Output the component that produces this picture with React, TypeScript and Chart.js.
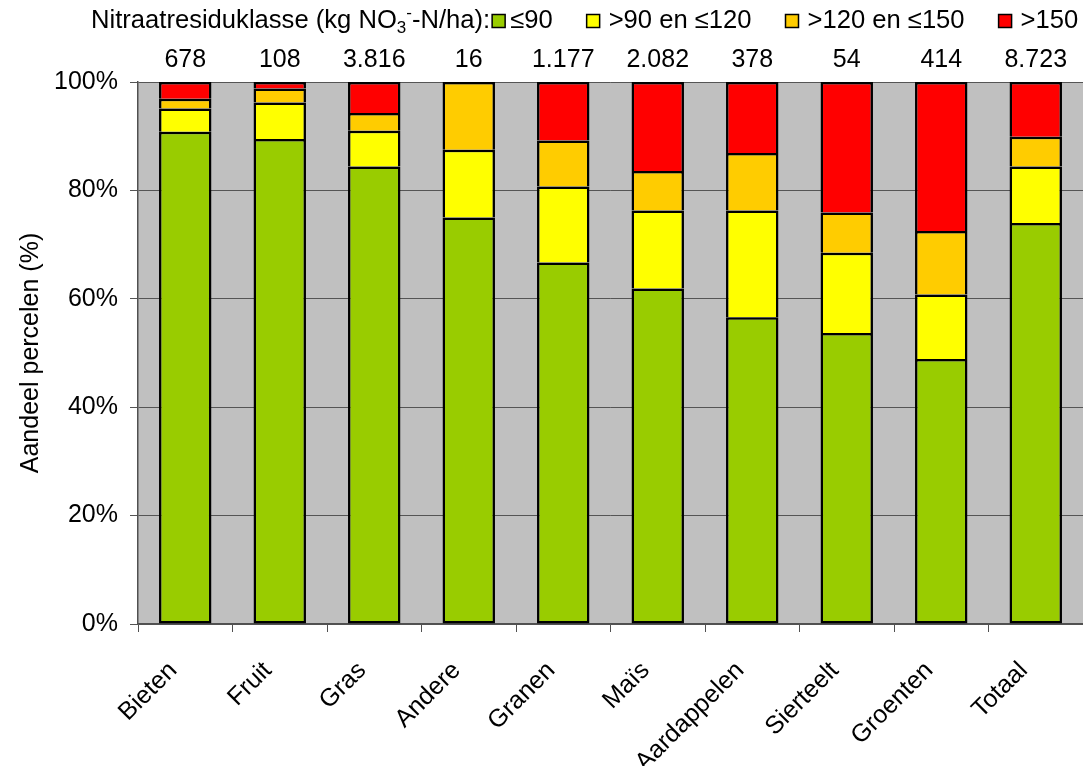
import React, { useEffect, useRef } from 'react';
import { Chart, registerables } from 'chart.js';

Chart.register(...registerables);

const categories = ['Bieten', 'Fruit', 'Gras', 'Andere', 'Granen', 'Maïs', 'Aardappelen', 'Sierteelt', 'Groenten', 'Totaal'];
const counts = ['678', '108', '3.816', '16', '1.177', '2.082', '378', '54', '414', '8.723'];
const le90 = [90.8, 89.5, 84.4, 75.0, 66.7, 61.9, 56.6, 53.7, 48.9, 74.0];
const gt90le120 = [4.3, 6.7, 6.6, 12.5, 14.0, 14.4, 19.7, 14.8, 11.9, 10.4];
const gt120le150 = [1.8, 2.6, 3.3, 12.5, 8.5, 7.3, 10.6, 7.4, 11.7, 5.5];
const gt150 = [3.1, 1.2, 5.7, 0, 10.8, 16.4, 13.1, 24.1, 27.5, 10.1];
const seriesNames = ['≤90', '>90 en ≤120', '>120 en ≤150', '>150'];
const seriesColors = ['#99CC00', '#FFFF00', '#FFCC00', '#FF0000'];
const yAxisTitle = 'Aandeel percelen (%)';

const FONT = '"Liberation Sans", Arial, sans-serif';
const FS = 25;
const LFS = 25.6;

const bgPlugin = {
  id: 'bgPlugin',
  beforeDraw(chart: any) {
    const { ctx, chartArea } = chart;
    ctx.save();
    ctx.fillStyle = '#FFFFFF';
    ctx.fillRect(0, 0, chart.width, chart.height);
    ctx.fillStyle = '#C0C0C0';
    ctx.fillRect(chartArea.left, chartArea.top, chartArea.right - chartArea.left, chartArea.bottom - chartArea.top);
    ctx.restore();
  },
};

const overlayPlugin = {
  id: 'overlayPlugin',
  afterDraw(chart: any) {
    const { ctx } = chart;
    const xs = chart.scales.x;
    ctx.save();
    ctx.fillStyle = '#000';
    ctx.textBaseline = 'middle';
    ctx.font = `${FS}px ${FONT}`;
    // counts above bars
    ctx.textAlign = 'center';
    counts.forEach((c, i) => {
      ctx.fillText(c, xs.getPixelForValue(i), 60);
    });
    // legend
    ctx.font = `${LFS}px ${FONT}`;
    ctx.textAlign = 'left';
    const ly = 21;
    let x = 91;
    const part1 = 'Nitraatresiduklasse (kg NO';
    ctx.fillText(part1, x, ly);
    x += ctx.measureText(part1).width;
    ctx.font = `${Math.round(LFS * 0.65)}px ${FONT}`;
    ctx.fillText('3', x, ly + LFS * 0.28);
    x += ctx.measureText('3').width;
    ctx.fillText('-', x, ly - LFS * 0.3);
    x += ctx.measureText('-').width;
    ctx.font = `${LFS}px ${FONT}`;
    const part2 = '-N/ha):';
    ctx.fillText(part2, x, ly);
    x += ctx.measureText(part2).width + 2;
    seriesNames.forEach((name, i) => {
      const bs = 13;
      ctx.fillStyle = seriesColors[i];
      ctx.fillRect(x, ly - bs / 2, bs, bs);
      ctx.strokeStyle = '#000';
      ctx.lineWidth = 1.5;
      ctx.strokeRect(x, ly - bs / 2, bs, bs);
      x += bs + (i === 0 ? 5 : 9);
      ctx.fillStyle = '#000';
      ctx.fillText(name, x, ly);
      x += ctx.measureText(name).width + 34;
    });
    ctx.restore();
  },
};

export default function App() {
  const ref = useRef<HTMLCanvasElement | null>(null);
  useEffect(() => {
    if (!ref.current) return;
    const data = [le90, gt90le120, gt120le150, gt150];
    const chart = new Chart(ref.current, {
      type: 'bar',
      data: {
        labels: categories,
        datasets: data.map((d, i) => ({
          label: seriesNames[i],
          data: d,
          backgroundColor: seriesColors[i],
          borderColor: '#000000',
          borderWidth: 2.5,
          borderSkipped: i === 0 ? false : 'bottom',
          categoryPercentage: 1,
          barPercentage: 0.555,
        })) as any,
      },
      options: {
        responsive: false,
        animation: false,
        events: [],
        layout: { padding: { top: 82, left: 0, right: 0, bottom: 0 } },
        plugins: {
          legend: { display: false },
          tooltip: { enabled: false },
          title: { display: false },
        },
        scales: {
          x: {
            stacked: true,
            afterFit(scale: any) { scale.height = 142; },
            grid: {
              display: true,
              drawOnChartArea: false,
              offset: true,
              tickLength: 8,
              color: '#505050',
            },
            border: { display: true, color: '#505050', width: 1.5 },
            ticks: {
              minRotation: 45,
              maxRotation: 45,
              autoSkip: false,
              padding: 24,
              labelOffset: -12,
              color: '#000',
              font: { family: FONT, size: FS },
            },
          },
          y: {
            stacked: true,
            min: 0,
            max: 100,
            afterFit(scale: any) { scale.width = 138; },
            grid: {
              color: '#555555',
              tickLength: 8,
            },
            border: { display: true, color: '#505050', width: 1.5 },
            ticks: {
              stepSize: 20,
              padding: 12,
              color: '#000',
              font: { family: FONT, size: FS },
              callback: (v: any) => `${v}%`,
            },
            title: {
              display: true,
              text: yAxisTitle,
              color: '#000',
              font: { family: FONT, size: FS },
              padding: { top: 16, bottom: 0 },
            },
          },
        },
      },
      plugins: [bgPlugin, overlayPlugin],
    });
    return () => chart.destroy();
  }, []);
  return (
    <div style={{ position: 'fixed', left: 0, top: 0, width: 1083, height: 766 }}>
      <canvas ref={ref} width={1083} height={766} style={{ width: 1083, height: 766 }} />
    </div>
  );
}
